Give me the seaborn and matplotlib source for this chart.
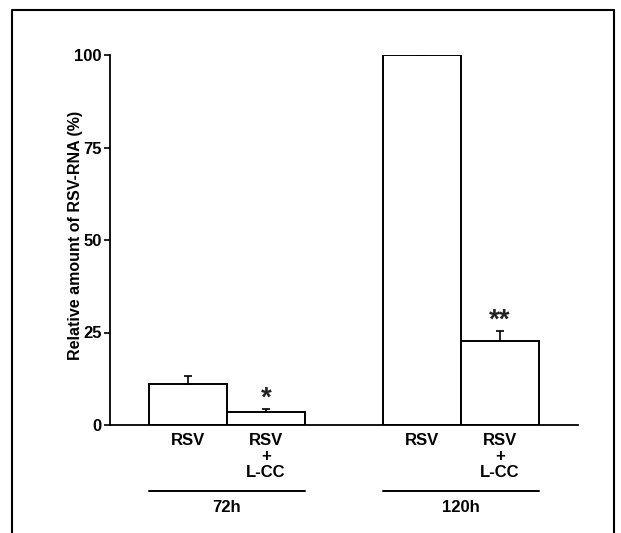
import matplotlib
matplotlib.use("Agg")
import matplotlib.pyplot as plt
import matplotlib.transforms as mtransforms
from matplotlib.lines import Line2D
import pandas as pd
import seaborn as sns

# Relative RSV-RNA (% of RSV at 120h), mean and upper SD
positions = [0, 1, 3, 4]
groups = ["72h", "72h", "120h", "120h"]
treatments = ["RSV", "RSV\n+\nL-CC", "RSV", "RSV\n+\nL-CC"]
means = [11.2, 3.4, 100.0, 22.6]
errors = [2.0, 0.9, 0.0, 2.8]
significance = ["", "*", "", "**"]
group_names = ["72h", "120h"]
group_spans = [(-0.5, 1.5), (2.5, 4.5)]
yticks = [0, 25, 50, 75, 100]

df = pd.DataFrame({"pos": positions, "group": groups,
                   "treatment": treatments, "value": means})

sns.set_style("white")
plt.rcParams["font.family"] = ["Liberation Sans", "DejaVu Sans"]
plt.rcParams["font.weight"] = "bold"
plt.rcParams["text.color"] = "black"
plt.rcParams["axes.labelcolor"] = "black"
plt.rcParams["xtick.color"] = "black"
plt.rcParams["ytick.color"] = "black"

fig = plt.figure(figsize=(6.21, 5.33), dpi=100)
ax = fig.add_axes([110 / 621, 1 - 425 / 533, 468 / 621, 370 / 533])

sns.barplot(data=df, x="pos", y="value", native_scale=True, width=1.0,
            color="white", edgecolor="black", linewidth=1.4,
            errorbar=None, ax=ax)

# one-sided error bars
ax.errorbar(positions, means, yerr=[[0] * 4, errors], fmt="none",
            ecolor="black", elinewidth=1.2, capsize=3, capthick=1.2)

for x, m, e, s in zip(positions, means, errors, significance):
    if s:
        ax.text(x, m + e - 0.6, s, ha="center", va="bottom",
                fontsize=20, fontweight="bold", color="#222222")

ax.set_xlim(-1, 5)
ax.set_ylim(0, 100)
ax.set_yticks(yticks)
ax.set_yticklabels([str(t) for t in yticks], fontsize=12, fontweight="bold")
ax.set_xticks(positions)
ax.set_xticklabels(treatments, fontsize=12, fontweight="bold",
                   linespacing=1.05)
ax.set_xticks([2, 5], minor=True)
ax.tick_params(axis="x", which="major", length=0, pad=6)
ax.tick_params(axis="x", which="minor", length=4, width=1.2, direction="out",
               color="black")
ax.tick_params(axis="y", length=4, width=1.2, direction="out", color="black",
               left=True, pad=2)
ax.set_xlabel("")
ax.set_ylabel("Relative amount of RSV-RNA (%)", fontsize=11.5,
              fontweight="bold")
ax.yaxis.set_label_coords(-0.058, 0.511)

for side in ["top", "right"]:
    ax.spines[side].set_visible(False)
for side in ["left", "bottom"]:
    ax.spines[side].set_color("black")
    ax.spines[side].set_linewidth(1.3)

# time-point brackets under the categories
trans = mtransforms.blended_transform_factory(ax.transData, ax.transAxes)
for name, (x0, x1) in zip(group_names, group_spans):
    ax.plot([x0, x1], [-0.178, -0.178], color="black", lw=1.4,
            transform=trans, clip_on=False)
    ax.text((x0 + x1) / 2, -0.224, name, ha="center", va="center",
            fontsize=12, fontweight="bold", transform=trans)

# panel frame, open at the bottom
fx0, fx1, fy = 12 / 621, 614 / 621, 1 - 10 / 533
fig.add_artist(Line2D([fx0, fx0, fx1, fx1], [0, fy, fy, 0], color="black",
                      lw=1.5, transform=fig.transFigure))

fig.savefig("out.png", dpi=100, facecolor="white")
